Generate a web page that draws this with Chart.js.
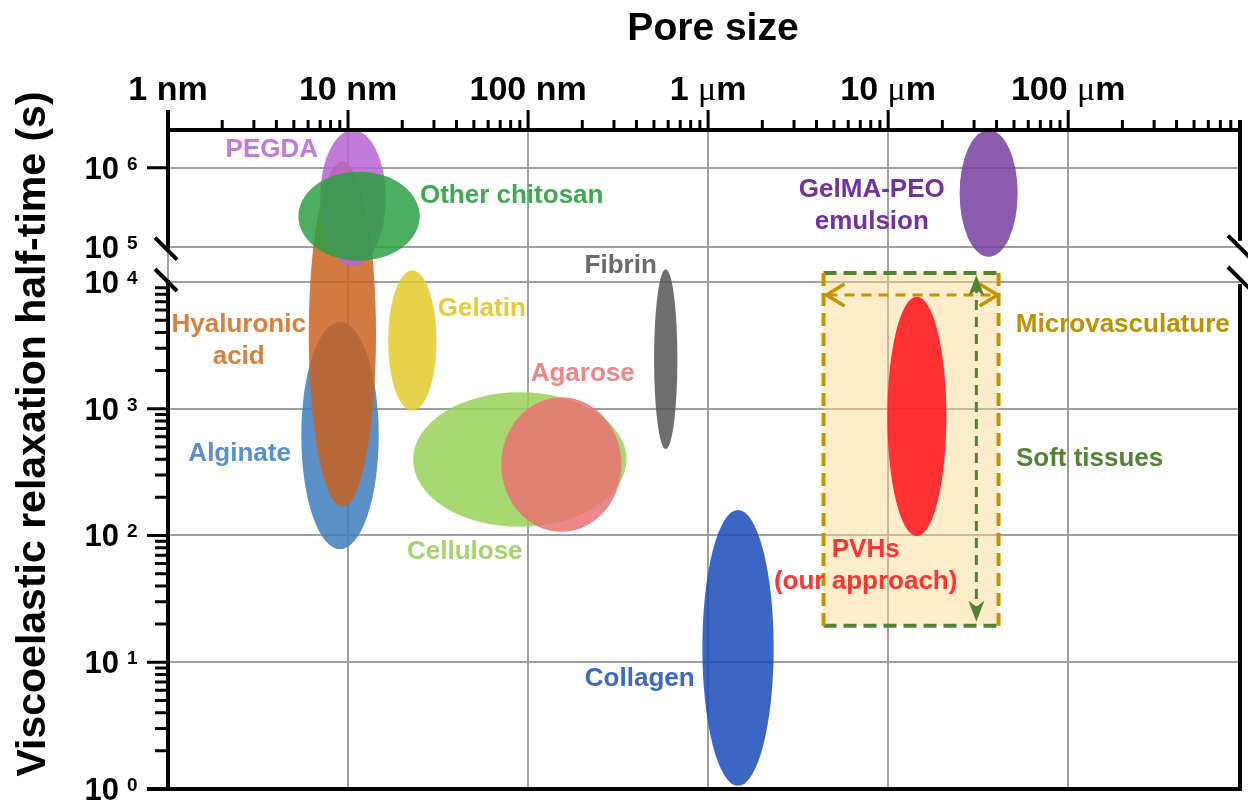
<!DOCTYPE html>
<html>
<head>
<meta charset="utf-8">
<title>Pore size vs viscoelastic relaxation half-time</title>
<script src="https://cdn.jsdelivr.net/npm/chart.js@4.4.1/dist/chart.umd.min.js"></script>
<style>
  html, body { margin: 0; padding: 0; background: #ffffff; }
  #chart { display: block; }
</style>
</head>
<body>
<canvas id="chart" width="1248" height="803"></canvas>
<script>
// Hydrogel families, in drawing order (back to front).
const materials = ['Alginate', 'Hyaluronic acid', 'PEGDA', 'Other chitosan', 'Gelatin',
  'Cellulose', 'Agarose', 'Fibrin', 'Collagen', 'PVHs', 'GelMA-PEO emulsion'];
// Pore size range of each family (nm)
const poreMinNm = [5.5, 6.05, 7.0, 5.3, 16.7, 23, 71, 501, 929, 9900, 24950];
const poreMaxNm = [14.8, 14.3, 16.2, 25, 31, 352, 330, 675, 2312, 21050, 52400];
// Viscoelastic relaxation half-time range of each family (s)
const halfTimeMinS = [78, 168, 2.8e4, 4.0e4, 966, 117, 107, 481, 1.06, 99, 5.2e4];
const halfTimeMaxS = [4835, 1.2e6, 3.0e6, 8.9e5, 2.1e4, 1349, 1231, 2.3e4, 159, 7660, 3.0e6];
const fillColors = [
  'rgba(61,125,188,0.85)', 'rgba(202,99,33,0.85)', 'rgba(185,100,210,0.85)', 'rgba(45,160,68,0.85)',
  'rgba(226,202,44,0.85)', 'rgba(152,209,89,0.85)', 'rgba(235,115,115,0.85)', 'rgba(85,85,85,0.85)',
  'rgba(25,75,188,0.85)', 'rgba(255,17,24,0.85)', 'rgba(119,62,162,0.85)'
];

// Tissue reference windows
const microvascPoreNm = [4375, 41040];   // microvasculature pore size window
const softTissueTimeS = [19.4, 1.8e4];   // soft tissue half-time window

// Axis ticks
const poreTicksNm = [1, 10, 100, 1000, 10000, 100000];
const poreTickNumbers = ['1', '10', '100', '1', '10', '100'];
const poreTickUnits = ['nm', 'nm', 'nm', 'μm', 'μm', 'μm'];
const timeTickExponents = [0, 1, 2, 3, 4, 5, 6];

// Broken half-time axis: full-size decades up to 1e4, a compressed gap from 1e4 to 1e5,
// then a shorter decade spacing above 1e5.
const GAP_SCALE = 35.3 / 126.75;
const TOP_SCALE = 79 / 126.75;
function axisPos(seconds) {
  const L = Math.log10(seconds);
  if (L <= 4) return L;
  if (L <= 5) return 4 + (L - 4) * GAP_SCALE;
  return 4 + GAP_SCALE + (L - 5) * TOP_SCALE;
}
const TIME_MAX_S = 3.0e6;
const PORE_MAX_NM = 9e5;

const FONT = "'Liberation Sans', Arial, Helvetica, sans-serif";
const SYMBOL_FONT = "'Liberation Serif', 'Times New Roman', serif";
Chart.defaults.font.family = FONT;

const labelSpecs = [
  { lines: ['PEGDA'], nm: 3.77, s: 1.36e6, color: '#C27BD9' },
  { lines: ['Other chitosan'], nm: 81.1, s: 3.57e5, color: '#3DAA52' },
  { lines: ['Hyaluronic', 'acid'], nm: 2.47, s: 4034, color: '#D8803F' },
  { lines: ['Alginate'], nm: 2.5, s: 387, color: '#5B8FCA' },
  { lines: ['Gelatin'], nm: 55.3, s: 5395, color: '#E4CC3A' },
  { lines: ['Agarose'], nm: 201, s: 1656, color: '#EE8686' },
  { lines: ['Fibrin'], nm: 327, s: 1.8e4, color: '#6B6B6B' },
  { lines: ['Cellulose'], nm: 44.5, s: 65.3, color: '#A5D46E' },
  { lines: ['Collagen'], nm: 417, s: 6.5, color: '#3C67C6' },
  { lines: ['PVHs', '(our approach)'], nm: 7500, s: 67.7, color: '#FF3333' },
  { lines: ['GelMA-PEO', 'emulsion'], nm: 8110, s: 4.26e5, color: '#7230A0' },
  { lines: ['Microvasculature'], nm: 2.01e5, s: 4034, color: '#C09000' },
  { lines: ['Soft tissues'], nm: 1.315e5, s: 353, color: '#548235' }
];

const GOLD = '#C49400';
const GREEN = '#548235';

function arrowChevron(ctx, tipX, tipY, dir) {
  // dir: +1 points right, -1 points left
  ctx.beginPath();
  ctx.moveTo(tipX - dir * 18, tipY - 11);
  ctx.lineTo(tipX, tipY);
  ctx.lineTo(tipX - dir * 18, tipY + 11);
  ctx.stroke();
}
function arrowStealth(ctx, tipX, tipY, dir) {
  // dir: -1 points up, +1 points down
  ctx.beginPath();
  ctx.moveTo(tipX, tipY);
  ctx.lineTo(tipX - 8, tipY - dir * 21);
  ctx.lineTo(tipX, tipY - dir * 15);
  ctx.lineTo(tipX + 8, tipY - dir * 21);
  ctx.closePath();
  ctx.fill();
}

const mapPlugin = {
  id: 'gelMap',
  beforeDatasetsDraw(chart) {
    const { ctx, chartArea: a, scales: { x, y } } = chart;
    const px = v => x.getPixelForValue(v);
    const py = v => y.getPixelForValue(axisPos(v));
    ctx.save();
    ctx.beginPath();
    ctx.rect(a.left, a.top, a.right - a.left, a.bottom - a.top);
    ctx.clip();

    // tissue window fill
    const bx0 = px(microvascPoreNm[0]), bx1 = px(microvascPoreNm[1]);
    const by0 = py(softTissueTimeS[1]), by1 = py(softTissueTimeS[0]);
    ctx.fillStyle = 'rgba(255,213,140,0.45)';
    ctx.fillRect(bx0, by0, bx1 - bx0, by1 - by0);

    // material ellipses
    materials.forEach((m, i) => {
      const x0 = px(poreMinNm[i]), x1 = px(poreMaxNm[i]);
      const y0 = py(halfTimeMaxS[i]), y1 = py(halfTimeMinS[i]);
      ctx.beginPath();
      ctx.ellipse((x0 + x1) / 2, (y0 + y1) / 2, (x1 - x0) / 2, (y1 - y0) / 2, 0, 0, Math.PI * 2);
      ctx.fillStyle = fillColors[i];
      ctx.fill();
    });

    // tissue window outline: dashed gold sides, dashed green top/bottom
    ctx.lineWidth = 4;
    ctx.setLineDash([13, 7]);
    ctx.strokeStyle = GREEN;
    ctx.beginPath();
    ctx.moveTo(bx0, by0); ctx.lineTo(bx1, by0);
    ctx.moveTo(bx0, by1); ctx.lineTo(bx1, by1);
    ctx.stroke();
    ctx.strokeStyle = GOLD;
    ctx.beginPath();
    ctx.moveTo(bx0, by0); ctx.lineTo(bx0, by1);
    ctx.moveTo(bx1, by0); ctx.lineTo(bx1, by1);
    ctx.stroke();

    // pore size span arrow (gold) and half-time span arrow (green)
    const ay = py(7900);
    ctx.lineWidth = 3;
    ctx.setLineDash([10, 7]);
    ctx.strokeStyle = GOLD;
    ctx.beginPath(); ctx.moveTo(bx0 + 4, ay); ctx.lineTo(bx1 - 4, ay); ctx.stroke();
    ctx.setLineDash([]);
    ctx.lineWidth = 3.5;
    arrowChevron(ctx, bx0 + 3, ay, -1);
    arrowChevron(ctx, bx1 - 1, ay, 1);

    const ax = px(30900);
    ctx.lineWidth = 3;
    ctx.setLineDash([10, 7]);
    ctx.strokeStyle = GREEN;
    ctx.beginPath(); ctx.moveTo(ax, by0 + 10); ctx.lineTo(ax, by1 - 10); ctx.stroke();
    ctx.setLineDash([]);
    ctx.fillStyle = GREEN;
    arrowStealth(ctx, ax, by0 + 2, -1);
    arrowStealth(ctx, ax, by1 - 4, 1);
    ctx.restore();
  },
  afterDraw(chart) {
    const { ctx, chartArea: a, scales: { x, y } } = chart;
    const px = v => x.getPixelForValue(v);
    const py = v => y.getPixelForValue(axisPos(v));
    const gapTop = py(1e5) + 2;
    const gapBottom = py(1e4) - 2;
    ctx.save();
    ctx.strokeStyle = '#000';
    ctx.lineCap = 'butt';

    // frame
    ctx.lineWidth = 4;
    ctx.beginPath();
    ctx.moveTo(a.left - 2, a.top); ctx.lineTo(a.right + 2, a.top);
    ctx.moveTo(a.left - 21, a.bottom); ctx.lineTo(a.right + 2, a.bottom);
    ctx.moveTo(a.left, a.top - 20); ctx.lineTo(a.left, gapTop);
    ctx.moveTo(a.left, gapBottom); ctx.lineTo(a.left, a.bottom + 2);
    ctx.moveTo(a.right, a.top - 10); ctx.lineTo(a.right, gapTop - 8);
    ctx.moveTo(a.right, gapBottom + 4); ctx.lineTo(a.right, a.bottom + 2);
    ctx.stroke();

    // axis break marks
    ctx.lineWidth = 4;
    ctx.beginPath();
    [[a.left - 2, gapTop], [a.left - 2, gapBottom], [a.right - 1, gapTop - 2], [a.right - 1, gapBottom - 2]]
      .forEach(([cx, cy]) => { ctx.moveTo(cx - 11, cy - 11); ctx.lineTo(cx + 11, cy + 11); });
    ctx.stroke();

    // pore size ticks (top)
    ctx.lineWidth = 3;
    ctx.beginPath();
    for (let d = 0; d <= 5; d++) {
      for (let m = 1; m <= 9; m++) {
        const v = m * Math.pow(10, d);
        if (v > PORE_MAX_NM * 1.0001) break;
        const xx = px(v);
        ctx.moveTo(xx, a.top); ctx.lineTo(xx, a.top - (m === 1 ? 20 : 10));
      }
    }
    ctx.stroke();

    // half-time ticks (left)
    ctx.beginPath();
    for (let e = 0; e <= 3; e++) {
      for (let m = 1; m <= 9; m++) {
        const yy = py(m * Math.pow(10, e));
        ctx.moveTo(a.left, yy); ctx.lineTo(a.left - (m === 1 ? 21 : 13), yy);
      }
    }
    const y6 = py(1e6);
    ctx.moveTo(a.left, y6); ctx.lineTo(a.left - 21, y6);
    ctx.stroke();

    ctx.fillStyle = '#000';
    ctx.textBaseline = 'alphabetic';

    // pore size tick labels; the micro sign uses a symbol-style serif face
    poreTicksNm.forEach((v, i) => {
      const numFont = `bold 34px ${FONT}`;
      const unit = poreTickUnits[i];
      const parts = unit === 'μm'
        ? [[poreTickNumbers[i] + ' ', numFont], ['μ', `34px ${SYMBOL_FONT}`], ['m', numFont]]
        : [[poreTickNumbers[i] + ' ' + unit, numFont]];
      let total = 0;
      parts.forEach(([t, f]) => { ctx.font = f; total += ctx.measureText(t).width; });
      let cx = px(v) - total / 2;
      ctx.textAlign = 'left';
      parts.forEach(([t, f]) => { ctx.font = f; ctx.fillText(t, cx, 100); cx += ctx.measureText(t).width; });
    });

    // half-time tick labels: 10^n
    timeTickExponents.forEach(e => {
      const yy = py(Math.pow(10, e));
      ctx.font = `bold 31px ${FONT}`;
      ctx.textAlign = 'right';
      ctx.fillText('10', 119, yy + 11);
      ctx.font = `bold 19px ${FONT}`;
      ctx.textAlign = 'left';
      ctx.fillText(String(e), 127, yy + 2);
    });

    // axis titles
    ctx.font = `bold 39px ${FONT}`;
    ctx.textAlign = 'center';
    ctx.fillText('Pore size', 713, 40);
    ctx.save();
    ctx.translate(45, 434);
    ctx.rotate(-Math.PI / 2);
    ctx.font = `bold 41px ${FONT}`;
    ctx.fillText('Viscoelastic relaxation half-time (s)', 0, 0);
    ctx.restore();

    // material and tissue labels
    ctx.font = `bold 26px ${FONT}`;
    ctx.textAlign = 'center';
    labelSpecs.forEach(l => {
      const lx = px(l.nm), ly = py(l.s);
      ctx.fillStyle = l.color;
      l.lines.forEach((t, k) => ctx.fillText(t, lx, ly + k * 32));
    });
    ctx.restore();
  }
};

new Chart(document.getElementById('chart'), {
  type: 'scatter',
  data: { datasets: [] },
  options: {
    responsive: false,
    devicePixelRatio: 1,
    animation: false,
    layout: { padding: { left: 0, right: 8, top: 0, bottom: 14 } },
    plugins: { legend: { display: false }, tooltip: { enabled: false } },
    scales: {
      x: {
        type: 'logarithmic',
        position: 'top',
        min: 1,
        max: PORE_MAX_NM,
        afterBuildTicks: s => { s.ticks = poreTicksNm.map(v => ({ value: v })); },
        afterFit: s => { s.height = 130; },
        ticks: { display: false },
        grid: { color: '#a0a0a0', lineWidth: 2, drawTicks: false },
        border: { display: false }
      },
      y: {
        type: 'linear',
        min: 0,
        max: axisPos(TIME_MAX_S),
        afterBuildTicks: s => { s.ticks = timeTickExponents.map(e => ({ value: axisPos(Math.pow(10, e)) })); },
        afterFit: s => { s.width = 168; },
        ticks: { display: false },
        grid: { color: '#a0a0a0', lineWidth: 2, drawTicks: false },
        border: { display: false }
      }
    }
  },
  plugins: [mapPlugin]
});
</script>
</body>
</html>
